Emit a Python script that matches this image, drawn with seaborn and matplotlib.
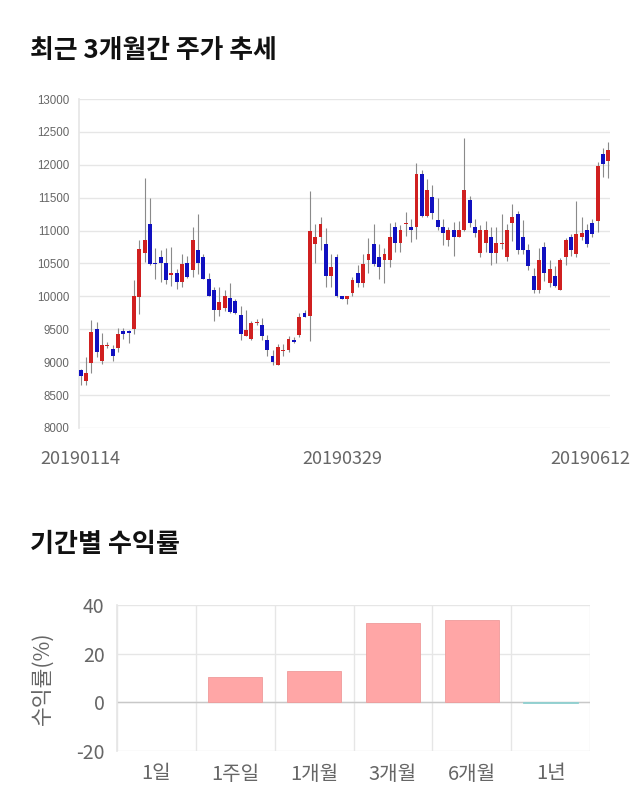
import numpy as np
import pandas as pd
import matplotlib
matplotlib.use("Agg")
import matplotlib.pyplot as plt
import matplotlib.transforms as mtransforms
import seaborn as sns

# ---------------- data ----------------
opens = [8880, 8720, 8990, 9500, 9020, 9250, 9200, 9210, 9480, 9470,
         9500, 9990, 10660, 11100, 10510, 10600, 10510, 10320, 10360, 10220,
         10500, 10400, 10710, 10600, 10260, 10100, 9800, 9830, 9980, 9930,
         9715, 9400, 9350, 9600, 9570, 9340, 9100, 8965, 9165, 9190,
         9330, 9420, 9750, 9700, 10800, 10905, 10800, 10305, 10600, 10000,
         9960, 10050, 10355, 10205, 10550, 10800, 10600, 10550, 10550, 11060,
         10810, 11100, 11060, 11060, 11865, 11215, 11510, 11165, 11060, 10860,
         11010, 10910, 11010, 11470, 11060, 10655, 10810, 10910, 10655, 10790,
         10600, 11110, 11250, 10905, 10700, 10307, 10100, 10750, 10205, 10307,
         10100, 10600, 10905, 10650, 10905, 11005, 11110, 11150, 12170, 12065]
highs = [8900, 9080, 9640, 9610, 9450, 9300, 9260, 9515, 9515, 9490,
         10255, 10850, 11800, 11500, 10740, 10710, 10730, 10750, 10420, 10650,
         10620, 11050, 11255, 10650, 10350, 10150, 10150, 10100, 10210, 9960,
         9850, 9800, 9620, 9650, 9670, 9420, 9190, 9270, 9270, 9400,
         9380, 9750, 9800, 11600, 11100, 11200, 11040, 10650, 10650, 10010,
         10000, 10300, 10470, 10650, 10890, 11100, 10800, 10740, 11120, 11130,
         11080, 11280, 11180, 12020, 11915, 11790, 11690, 11490, 11180, 11060,
         11130, 11150, 12400, 11530, 11180, 11080, 11150, 11050, 11050, 11250,
         11100, 11400, 11300, 11160, 10790, 10430, 10730, 10820, 10560, 10460,
         10590, 10890, 10950, 11455, 11200, 11100, 11180, 12040, 12250, 12350]
lows = [8650, 8650, 8830, 9080, 8980, 9210, 9020, 9160, 9350, 9285,
        9430, 9730, 10520, 10480, 10270, 10215, 10190, 10160, 10110, 10150,
        10280, 10300, 10340, 10260, 10005, 9620, 9700, 9780, 9750, 9740,
        9340, 9395, 9340, 9560, 9340, 9090, 8960, 8950, 9100, 9150,
        9290, 9380, 9690, 9320, 10510, 10710, 10150, 10150, 9990, 9960,
        9885, 10000, 10150, 10150, 10360, 10460, 10260, 10210, 10440, 10670,
        10670, 10925, 10830, 10875, 11200, 11200, 11180, 11010, 10780, 10760,
        10620, 10900, 10990, 11050, 10900, 10600, 10670, 10470, 10500, 10720,
        10540, 10840, 10640, 10650, 10400, 10050, 10050, 10230, 10150, 10150,
        10100, 10480, 10620, 10600, 10850, 10750, 10900, 10980, 11820, 11800]
closes = [8790, 8840, 9460, 9150, 9260, 9260, 9090, 9430, 9430, 9450,
          10000, 10720, 10860, 10500, 10490, 10510, 10255, 10360, 10220, 10500,
          10300, 10860, 10505, 10260, 10005, 9800, 9910, 10000, 9760, 9750,
          9435, 9485, 9600, 9610, 9400, 9190, 9010, 9230, 9190, 9350,
          9310, 9690, 9690, 11000, 10900, 11100, 10310, 10450, 10000, 9960,
          10000, 10255, 10205, 10500, 10650, 10500, 10450, 10650, 10900, 10810,
          11015, 11110, 11010, 11865, 11215, 11610, 11270, 11060, 10960, 11010,
          10910, 11010, 11610, 11115, 10960, 11010, 11010, 10655, 10810, 10815,
          11005, 11200, 10700, 10700, 10460, 10100, 10560, 10360, 10410, 10155,
          10560, 10850, 10700, 10955, 10960, 10800, 10955, 11975, 12005, 12220]
date_labels = ["20190114", "20190329", "20190612"]
date_label_idx = [0, 49, 99]

periods = ["1일", "1주일", "1개월", "3개월", "6개월", "1년"]
returns = [0.0, 10.3, 12.8, 32.4, 34.0, -0.4]

# ---------------- style ----------------
sns.set_theme(style="white")
plt.rcParams["font.family"] = ["Noto Sans CJK KR", "DejaVu Sans"]
plt.rcParams["axes.unicode_minus"] = False

fig = plt.figure(figsize=(6.4, 8.1), dpi=100)
W, H = 640, 810

def axes_px(l, t, r, b):
    return fig.add_axes([l / W, 1 - b / H, (r - l) / W, (b - t) / H])

GRID = "#e6e6e6"
TXT = "#666666"
UP = "#d02020"
DOWN = "#1010c0"

# ---------------- top: candlestick ----------------
fig.text(30 / W, 1 - 50 / H, "최근 3개월간 주가 추세", fontsize=18.6, fontweight="bold",
         color="#111111", va="center", ha="left")

ax = axes_px(79, 99, 610, 428)
df = pd.DataFrame({"o": opens, "h": highs, "l": lows, "c": closes})
df["x"] = np.arange(len(df))
df["up"] = df["c"] >= df["o"]
ax.vlines(df["x"], df["l"], df["h"], color="#8a8a8a", linewidth=0.8, zorder=2)
body_bottom = np.minimum(df["o"], df["c"])
body_h = np.maximum(np.abs(df["c"] - df["o"]), 15)
colors = np.where(df["up"], UP, DOWN)
ax.bar(df["x"], body_h, bottom=body_bottom, width=0.74, color=colors,
       linewidth=0, zorder=3)

ax.set_xlim(-0.3, len(df) - 0.7)
ax.set_ylim(8000, 13000)
ax.set_yticks(np.arange(8000, 13001, 500))
ax.set_yticklabels([str(v) for v in range(8000, 13001, 500)],
                   family=["Liberation Sans", "DejaVu Sans"])
ax.tick_params(axis="y", labelsize=8.3, colors=TXT, length=0, pad=7)
ax.grid(axis="y", color=GRID, linewidth=1)
ax.set_xticks(date_label_idx)
ax.set_xticklabels(date_labels)
ax.tick_params(axis="x", labelsize=13, colors=TXT, length=0, pad=16)
lbls = ax.get_xticklabels()
lbls[-1].set_transform(lbls[-1].get_transform() +
                       mtransforms.ScaledTranslation(-0.18, 0, fig.dpi_scale_trans))
for s in ["top", "right", "bottom"]:
    ax.spines[s].set_visible(False)
ax.spines["left"].set_color(GRID)
ax.set_axisbelow(True)

# ---------------- bottom: returns ----------------
fig.text(30 / W, 1 - 544 / H, "기간별 수익률", fontsize=18.8, fontweight="bold",
         color="#111111", va="center", ha="left")

bx = axes_px(117, 605, 590, 751)
rdf = pd.DataFrame({"period": periods, "ret": returns})
rdf["sign"] = np.where(rdf["ret"] >= 0, "pos", "neg")
sns.barplot(data=rdf, x="period", y="ret", hue="sign", order=periods,
            palette={"pos": "#ffa6a6", "neg": "#a8dede"}, dodge=False,
            saturation=1, width=0.69, edgecolor="#ef9a9a", linewidth=0.6,
            legend=False, ax=bx, zorder=3)
for patch in list(bx.patches):
    h = patch.get_height()
    if h == 0 or np.isnan(h):
        patch.remove()
    elif h < 0:
        patch.set_edgecolor("#8ccfcf")

bx.set_xlim(-0.5, 5.5)
bx.set_ylim(-20, 40)
bx.set_yticks([-20, 0, 20, 40])
bx.tick_params(axis="y", labelsize=14, colors=TXT, length=6, color=GRID, pad=3)
bx.grid(axis="y", color=GRID, linewidth=1)
bx.axhline(0, color="#c8c8c8", linewidth=1, zorder=2)
bx.set_xticks(np.arange(-0.5, 6, 1), minor=True)
bx.grid(axis="x", which="minor", color=GRID, linewidth=1)
bx.tick_params(axis="x", which="minor", length=14, color=GRID, width=1)
bx.tick_params(axis="x", which="major", length=0, labelsize=14.5, colors=TXT, pad=9)
bx.set_xlabel("")
bx.set_ylabel("수익률(%)", fontsize=15.5, color=TXT, labelpad=16)
for s in ["top", "right", "bottom"]:
    bx.spines[s].set_visible(False)
bx.spines["left"].set_color(GRID)
bx.set_axisbelow(True)

fig.savefig("out.png", dpi=100, facecolor="white")
